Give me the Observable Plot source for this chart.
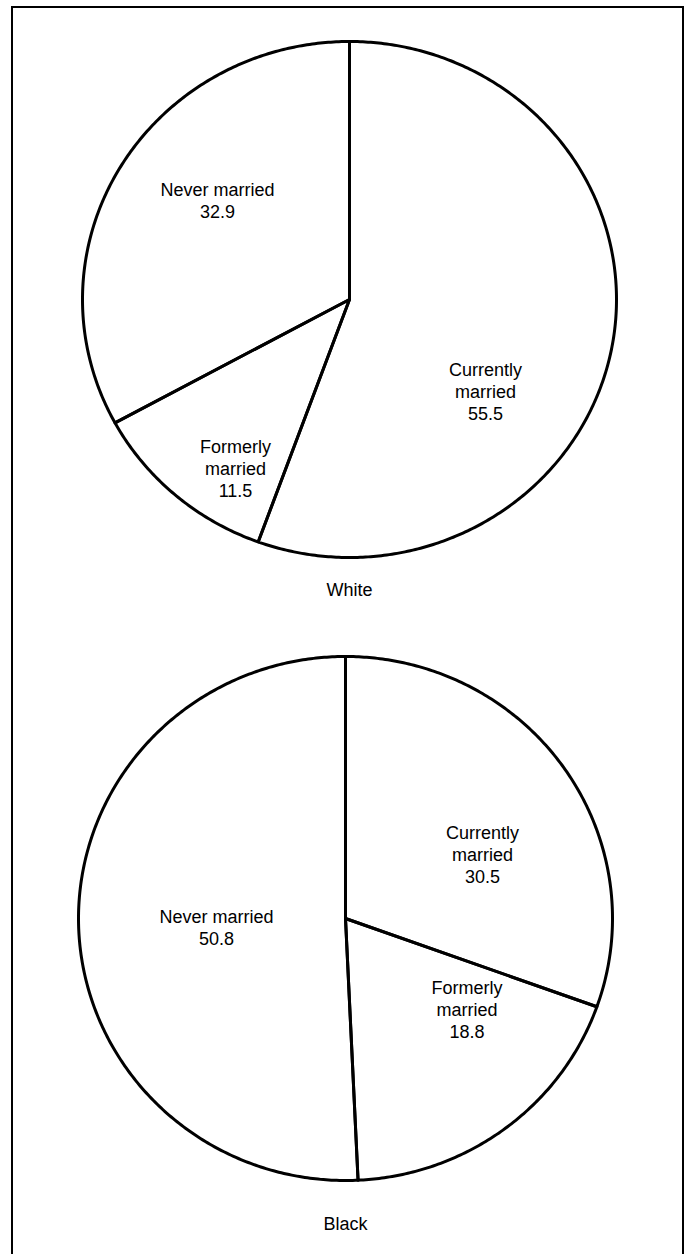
<!DOCTYPE html>
<html>
<head>
<meta charset="utf-8">
<script src="https://cdn.jsdelivr.net/npm/d3@7"></script>
<script src="https://cdn.jsdelivr.net/npm/@observablehq/plot@0.6"></script>
<style>
  html, body { margin: 0; padding: 0; background: white; }
  #wrap { position: relative; width: 690px; height: 1254px; overflow: hidden; background: white; }
  #wrap svg { display: block; }
  #frame { position: absolute; left: 11px; top: 6px; width: 669px; height: 1300px;
           border: 2px solid black; border-bottom: none; pointer-events: none; }
</style>
</head>
<body>
<div id="wrap"><div id="frame"></div></div>
<script>
// ---- data ----
const categories = ["Currently married", "Formerly married", "Never married"];
const categoryLabels = ["Currently\nmarried", "Formerly\nmarried", "Never married"];
const whiteValues = [55.5, 11.5, 32.9];
const blackValues = [30.5, 18.8, 50.8];
const groupTitles = ["White", "Black"];

// ---- layout (pixels / unit-circle offsets) ----
const layouts = [
  { cx: 349, cy: 299, rx: 267, ry: 258, height: 627,
    labelPos: [[0.509, 0.354], [-0.427, 0.654], [-0.494, -0.385]], titleY: 1.125 },
  { cx: 345, cy: 291, rx: 267, ry: 262, height: 627,
    labelPos: [[0.513, -0.248], [0.455, 0.345], [-0.483, 0.034]], titleY: 1.168 }
];

function slicePoints(values) {
  const total = d3.sum(values);
  const pts = [];
  let acc = 0;
  values.forEach((v, i) => {
    const a0 = acc / total * 2 * Math.PI;
    acc += v;
    const a1 = acc / total * 2 * Math.PI;
    const n = Math.max(2, Math.ceil((a1 - a0) / 0.01));
    pts.push({ k: i, x: 0, y: 0 });
    for (let j = 0; j <= n; j++) {
      const t = a0 + (a1 - a0) * j / n;
      pts.push({ k: i, x: Math.sin(t), y: -Math.cos(t) });
    }
    pts.push({ k: i, x: 0, y: 0 });
  });
  return pts;
}

function pie(values, title, L) {
  const labels = values.map((v, i) => ({
    text: categoryLabels[i] + "\n" + v.toFixed(1),
    lx: L.labelPos[i][0], ly: L.labelPos[i][1]
  }));
  return Plot.plot({
    width: 690,
    height: L.height,
    margin: 0,
    x: { domain: [-1, 1], range: [L.cx - L.rx, L.cx + L.rx], axis: null },
    y: { domain: [-1, 1], range: [L.cy - L.ry, L.cy + L.ry], axis: null },
    style: { fontFamily: "'Liberation Sans', Arial, Helvetica, sans-serif", background: "transparent" },
    marks: [
      Plot.line(slicePoints(values), {
        x: "x", y: "y", z: "k", stroke: "black", strokeWidth: 3,
        strokeLinejoin: "round", strokeLinecap: "round", curve: "linear"
      }),
      Plot.text(labels, {
        x: "lx", y: "ly", text: "text", fontSize: 18, lineHeight: 1.22,
        fill: "black", textAnchor: "middle"
      }),
      Plot.text([title], {
        x: [0], y: [L.titleY], text: d => d, fontSize: 18, fill: "black", textAnchor: "middle"
      })
    ]
  });
}

const wrap = document.getElementById("wrap");
const frame = document.getElementById("frame");
wrap.insertBefore(pie(whiteValues, groupTitles[0], layouts[0]), frame);
wrap.insertBefore(pie(blackValues, groupTitles[1], layouts[1]), frame);
</script>
</body>
</html>
